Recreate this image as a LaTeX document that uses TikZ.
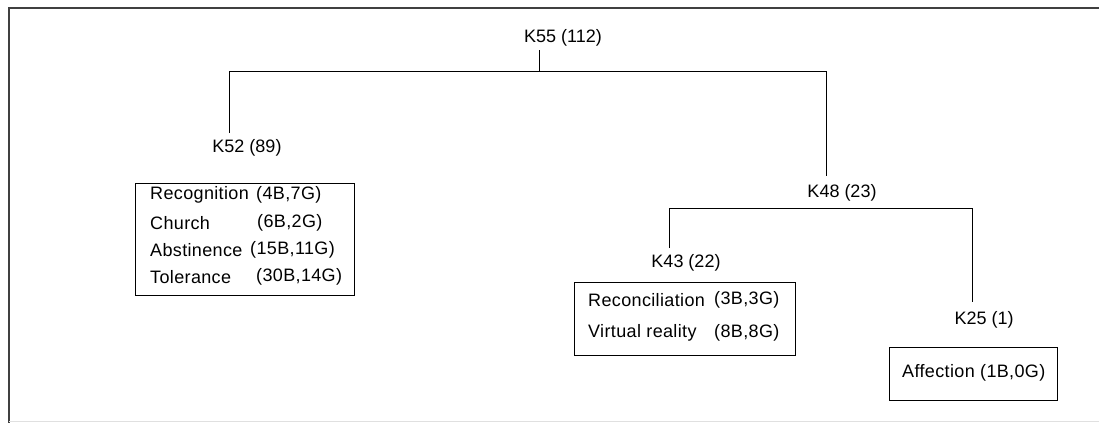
\documentclass[tikz,border=0pt]{standalone}
\usepackage{fontspec}
\setmainfont{Liberation Sans}
\newfontfamily\rowfont[LetterSpace=2]{Liberation Sans}
\tikzset{
  lbl/.style={inner sep=0pt, font=\fontsize{18}{21}\selectfont},
  row/.style={inner sep=0pt, anchor=west, font=\rowfont\fontsize{18}{21}\selectfont},
  leafbox/.style={draw, line width=1.2pt, inner sep=0pt, anchor=north west},
  branch/.style={line width=1pt}
}
\begin{document}
\begin{tikzpicture}[x=1pt, y=-1pt]
\useasboundingbox (0,0) rectangle (1099,423);
% frame
\draw[line width=1.6pt, black!75] (1099,8) -- (9,8) -- (9,423);
\draw[black!12] (9,421) -- (1099,421);

% cluster labels
\node[lbl] (k55) at (563,38) {K55 (112)};
\node[lbl] (k52) at (247,148) {K52 (89)};
\node[lbl] (k48) at (842,193) {K48 (23)};
\node[lbl] (k43) at (686,263) {K43 (22)};
\node[lbl] (k25) at (984,320) {K25 (1)};

% joins
\coordinate (j55) at (539,71);
\coordinate (j48) at (669,208);
\coordinate (e55) at (539,50);
\coordinate (e52) at (229,133);
\coordinate (e48) at (826,176);
\coordinate (e43) at (669,248);
\coordinate (e25) at (972,302);
\draw[branch] (e55) -- (j55);
\draw[branch] (e52) -- (e52 |- j55) -- (e48 |- j55) -- (e48);
\draw[branch] (e43) -- (j48) -- (e25 |- j48) -- (e25);

% leaf boxes
\node[leafbox, minimum width=219, minimum height=112] (b52) at (135,183) {};
\node[leafbox, minimum width=221, minimum height=73] (b43) at (574,282) {};
\node[leafbox, minimum width=168, minimum height=53] (b25) at (889,347) {};

\foreach \y/\name/\cnt/\cx in {195/Recognition/{(4B,7G)}/256, 223/Church/{(6B,2G)}/257,
    250/Abstinence/{(15B,11G)}/250, 277/Tolerance/{(30B,14G)}/256}
{
  \node[row] (n\y) at (150,\y) {\name};
  \node[row] (c\y) at (\cx,\y) {\cnt};
}
\foreach \y/\name/\cnt in {300/Reconciliation/{(3B,3G)}, 333/Virtual reality/{(8B,8G)}}
{
  \node[row] (n\y) at (588,\y) {\name};
  \node[row] (c\y) at (714,\y) {\cnt};
}
\node[row] (n373) at (902,373) {Affection (1B,0G)};
\end{tikzpicture}
\end{document}
